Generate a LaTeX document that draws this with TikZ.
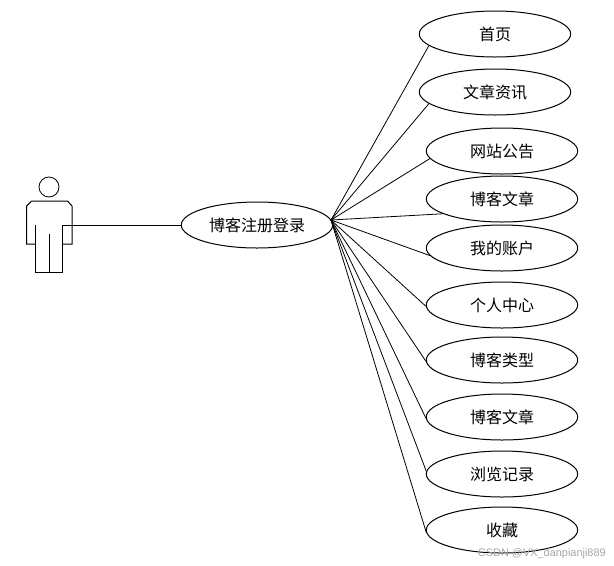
\documentclass[tikz,border=0pt]{standalone}
\usepackage{fontspec}
\setmainfont{Liberation Sans}
\newfontfamily\cjk{Noto Sans CJK SC}[Scale=1]
\usetikzlibrary{shapes.geometric}
\tikzset{
  uc/.style={draw=black,ellipse,line width=0.75pt,minimum width=113.5pt,minimum height=34.5pt,inner sep=0pt,font=\cjk\fontsize{12}{14}\selectfont,fill=none},
  link/.style={draw=black,line width=0.6pt},
  actorline/.style={draw=black,line width=0.75pt}
}
\begin{document}
\begin{tikzpicture}[x=0.75pt,y=-0.75pt]
\useasboundingbox (0,0) rectangle (614,565);
% actor
\node[circle,draw=black,line width=0.6pt,minimum size=15pt,inner sep=0pt] (head) at (49,187) {};
\draw[actorline,line join=miter] (35.7,244) -- (26.7,244) -- (26.7,206) -- (31.5,201) -- (67.5,201) -- (72,206) -- (72,244) -- (62.7,244);
\draw[actorline] (35.7,225) -- (35.7,272) -- (62.7,272) -- (62.7,225);
\draw[actorline] (49,234) -- (49,272);
\coordinate (hand) at (62.7,225);
% use cases
\node[uc] (main) at (257,225) {博客注册登录};
\node[uc] (a1) at (495,34) {首页};
\node[uc] (a2) at (495,92) {文章资讯};
\node[uc] (a3) at (502,151) {网站公告};
\node[uc] (a4) at (502,199) {博客文章};
\node[uc] (a5) at (502,248) {我的账户};
\node[uc] (a6) at (502,305) {个人中心};
\node[uc] (a7) at (502,360) {博客类型};
\node[uc] (a8) at (502,417) {博客文章};
\node[uc] (a9) at (502,474) {浏览记录};
\node[uc] (a10) at (502,530) {收藏};
\coordinate (hub) at (331,220);
\draw[link] (hand) -- (main.west);
\draw[link] (hub) -- (a1.190);
\draw[link] (hub) -- (a2.190);
\draw[link] (hub) -- (a3.186);
\draw[link] (hub) -- (a4.194);
\draw[link] (hub) -- (a5.186);
\draw[link] (hub) -- (a6.181.5);
\draw[link] (hub) -- (a7.181.5);
\draw[link] (hub) -- (a8.181.5);
\draw[link] (hub) -- (a9.178);
\draw[link] (hub) -- (a10.182);
\node[text=black!35,font=\fontsize{8.2}{10}\selectfont,inner sep=0pt,anchor=east] (wm) at (606,554) {CSDN @VX\_danpianji889};
\end{tikzpicture}
\end{document}
